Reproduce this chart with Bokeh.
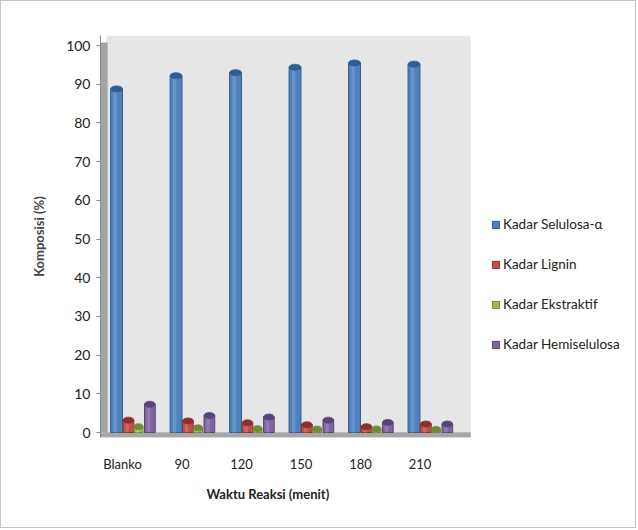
from bokeh.plotting import figure
from bokeh.models import Legend, LegendItem, FixedTicker, BoxAnnotation, Range1d, Title
from bokeh.embed import file_html
from bokeh.resources import INLINE

categories = ["Blanko", "90", "120", "150", "180", "210"]
selulosa = [88.8, 92.2, 93.0, 94.4, 95.5, 95.2]
lignin = [3.2, 3.0, 2.5, 2.0, 1.5, 2.2]
ekstraktif = [1.5, 1.2, 1.0, 0.9, 0.9, 0.8]
hemiselulosa = [7.3, 4.4, 4.0, 3.2, 2.6, 2.2]
series_names = ["Kadar Selulosa-\u03b1", "Kadar Lignin", "Kadar Ekstraktif", "Kadar Hemiselulosa"]
y_ticks = [0, 10, 20, 30, 40, 50, 60, 70, 80, 90, 100]

FONT = "Lato"
x0, x1 = -0.37, 8.64
xw = 5.85
y0, y1 = -1.29, 102.6

p = figure(width=636, height=528, output_backend="svg", toolbar_location=None,
           x_range=Range1d(x0, x1), y_range=Range1d(y0, y1),
           min_border_left=99, min_border_right=1, min_border_top=34, min_border_bottom=92)
p.styles = {"border": "1px solid #c6c6c6"}
p.background_fill_color = "white"
p.border_fill_color = "white"
p.outline_line_color = None
p.xgrid.grid_line_color = None
p.ygrid.grid_line_color = None

# walls and floor
p.add_layout(BoxAnnotation(left=x0 + 0.1, right=xw, bottom=0, top=y1,
                           fill_color="#e6e6e6", fill_alpha=1, line_color=None, level="underlay"))
p.add_layout(BoxAnnotation(left=x0, right=x0 + 0.12, bottom=0, top=100.8,
                           fill_color="#a3a3a3", fill_alpha=1, line_color=None, level="underlay"))
p.add_layout(BoxAnnotation(left=x0, right=xw, bottom=y0, top=0,
                           fill_color="#a6a6a6", fill_alpha=1, line_color="#8c8c8c", level="underlay"))

offsets = [-0.1, 0.1, 0.27, 0.46]
widths = [0.2, 0.18, 0.15, 0.18]
colors = ["#4F81BD", "#C0504D", "#9BBB59", "#8064A2"]
dark = ["#2f5d94", "#8e2f2c", "#6f8b36", "#5a4378"]
light = ["#7aa3d6", "#db7a77", "#bcd985", "#a08cc2"]
series = [selulosa, lignin, ekstraktif, hemiselulosa]

items = []
for k in range(4):
    xs = [i + offsets[k] for i in range(len(categories))]
    r = p.vbar(x=xs, top=series[k], bottom=0, width=widths[k],
               fill_color=colors[k], line_color=dark[k], line_width=1)
    p.vbar(x=[x - widths[k] * 0.12 for x in xs], top=series[k], bottom=0, width=widths[k] * 0.3,
           fill_color=light[k], fill_alpha=0.55, line_color=None)
    p.ellipse(x=xs, y=series[k], width=widths[k], height=6, height_units="screen",
              fill_color=dark[k], line_color=dark[k], line_width=0.8)
    items.append(LegendItem(label=series_names[k], renderers=[r]))

legend = Legend(items=items, location=(391, 83), orientation="vertical",
                background_fill_alpha=0, border_line_color=None,
                glyph_width=9, glyph_height=9, label_height=20, spacing=20,
                label_text_font=FONT, label_text_font_size="13.5px", label_text_color="#222222",
                padding=0, margin=0, label_standoff=3)
p.add_layout(legend)

p.xaxis.ticker = FixedTicker(ticks=list(range(len(categories))))
p.xaxis.major_label_overrides = {i: c for i, c in enumerate(categories)}
p.xaxis.axis_line_color = None
p.xaxis.major_tick_line_color = None
p.xaxis.minor_tick_line_color = None
p.xaxis.major_label_standoff = 12
p.xaxis.major_label_text_font = FONT
p.xaxis.major_label_text_font_size = "13px"
p.xaxis.major_label_text_color = "#222222"

xt = Title(text="Waktu Reaksi (menit)", align="left", offset=106,
           text_font=FONT, text_font_style="bold", text_font_size="13px",
           text_color="#222222", standoff=19)
p.add_layout(xt, "below")

p.yaxis.ticker = FixedTicker(ticks=y_ticks)
p.yaxis.axis_line_color = "#8a8a8a"
p.yaxis.major_tick_line_color = "#8a8a8a"
p.yaxis.major_tick_out = 4
p.yaxis.major_tick_in = 0
p.yaxis.minor_tick_line_color = None
p.yaxis.major_label_standoff = 6
p.yaxis.major_label_text_font = FONT
p.yaxis.major_label_text_font_size = "14px"
p.yaxis.major_label_text_color = "#222222"
p.yaxis.axis_label = "Komposisi (%)"
p.yaxis.axis_label_text_font = FONT
p.yaxis.axis_label_text_font_style = "bold"
p.yaxis.axis_label_text_font_size = "13px"
p.yaxis.axis_label_standoff = 16

open("out.html", "w").write(file_html(p, INLINE))
